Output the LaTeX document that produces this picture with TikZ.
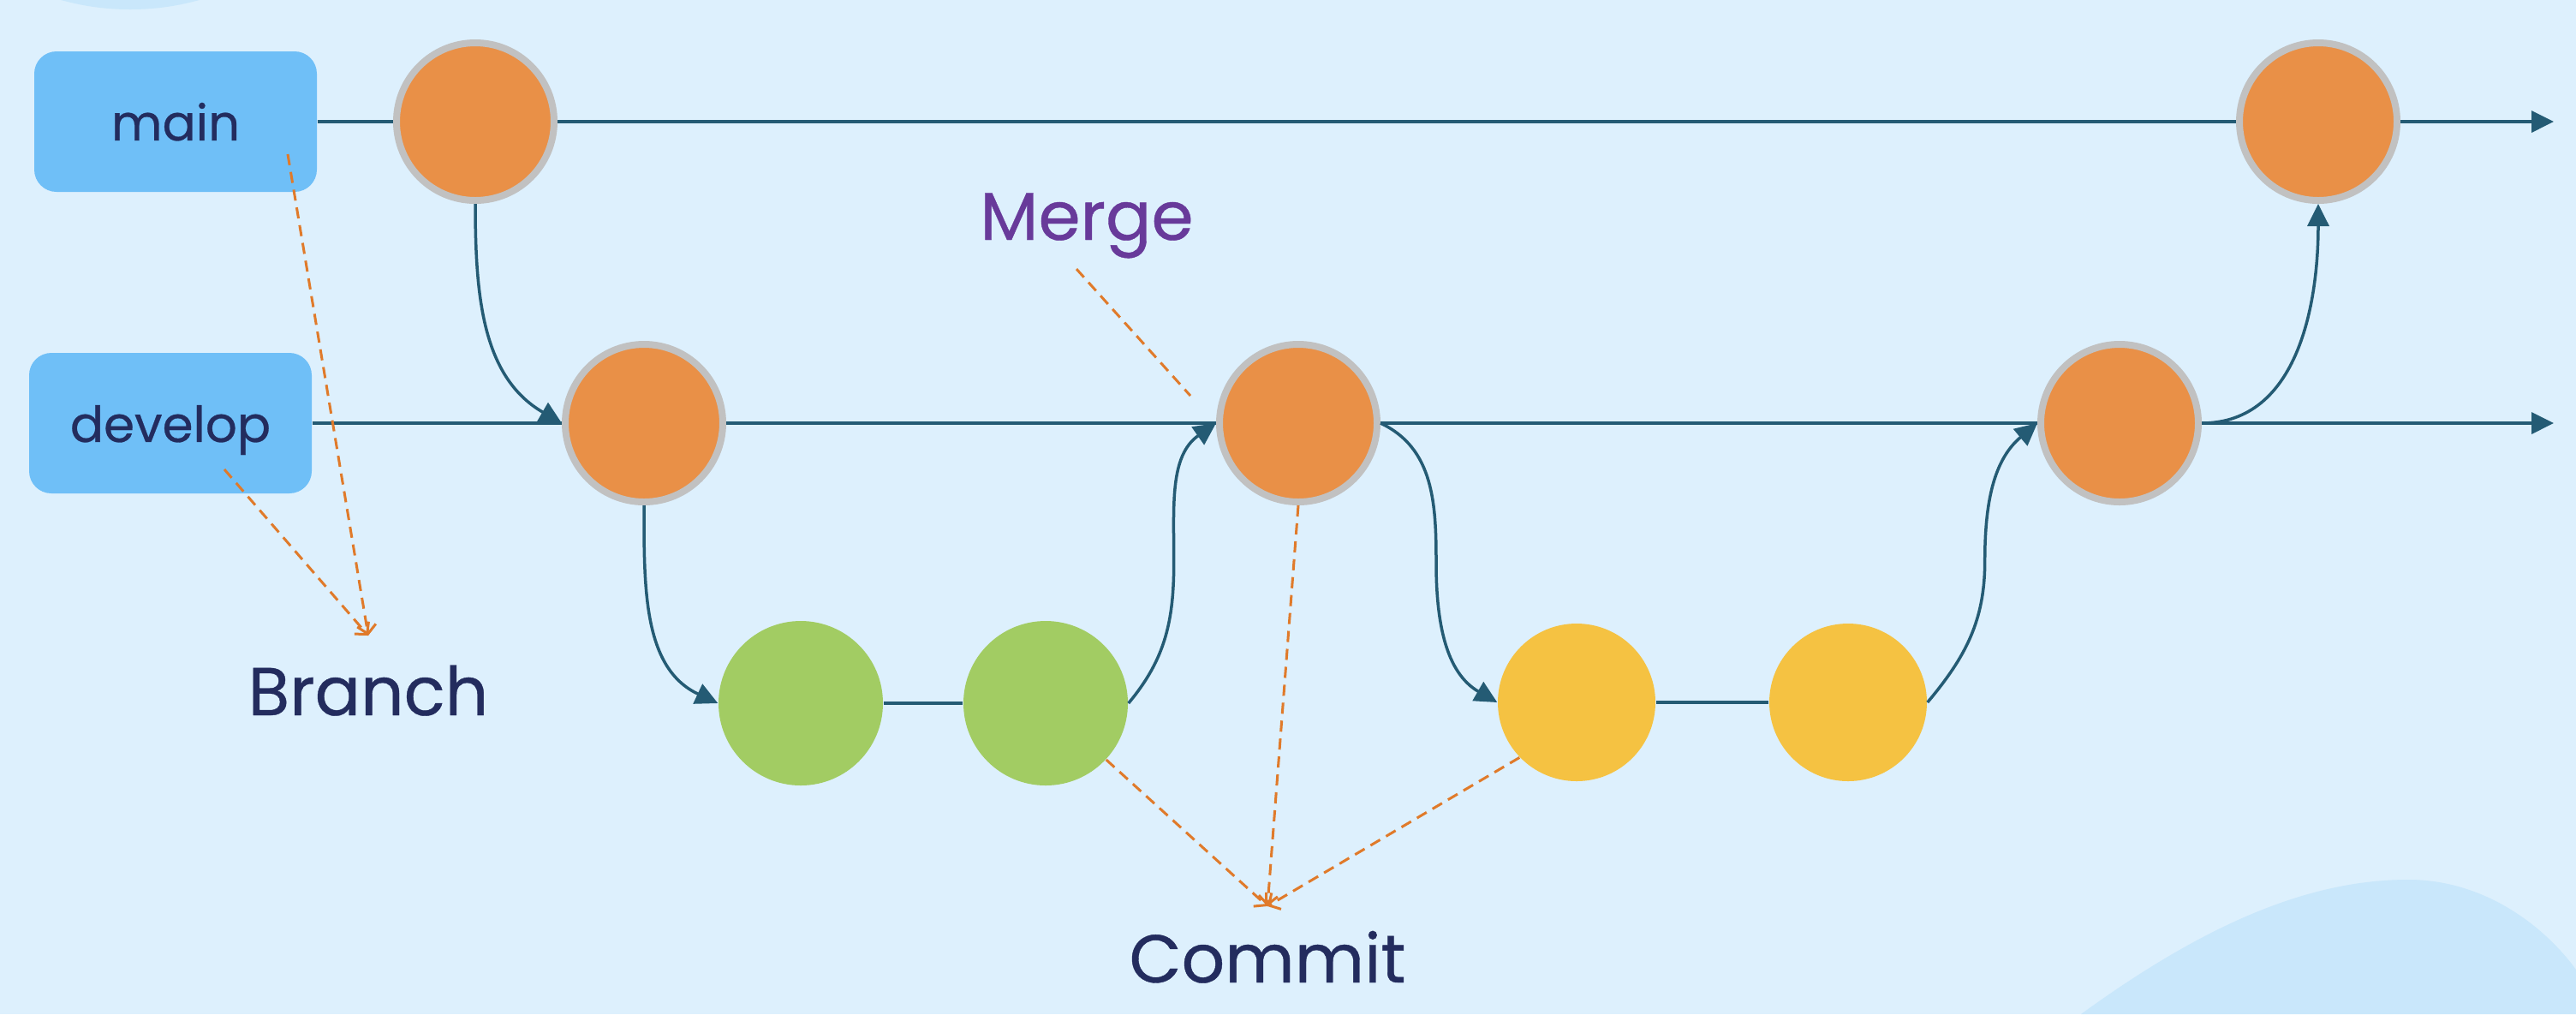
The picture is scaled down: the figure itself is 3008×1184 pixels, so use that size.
\documentclass[tikz,border=0pt]{standalone}
\usepackage{fontspec}
\setmainfont{Poppins}[FakeBold=0.5]
\usepackage{tikz}
\usetikzlibrary{arrows.meta}
\definecolor{bgblue}{HTML}{DDF0FD}
\definecolor{blobblue}{HTML}{C9E7FB}
\definecolor{boxblue}{HTML}{6FBFF7}
\definecolor{navy}{HTML}{232C5E}
\definecolor{linec}{HTML}{245B74}
\definecolor{ringgray}{HTML}{C1C1C1}
\definecolor{orangec}{HTML}{E99047}
\definecolor{greenc}{HTML}{A2CC63}
\definecolor{yellowc}{HTML}{F5C242}
\definecolor{dashc}{HTML}{E07A2A}
\definecolor{purplec}{HTML}{683A9A}
\newcommand{\lbl}{\fontsize{22.5}{27}\selectfont}
\tikzstyle{branchbox}=[fill=boxblue,rounded corners=2.6mm,minimum width=33mm,minimum height=16.4mm,inner sep=0pt,text height=14pt,text depth=1.5pt,text=navy,font=\fontsize{16.5}{20}\selectfont]
\tikzstyle{commit}=[circle,inner sep=0pt]
\tikzstyle{mcommit}=[commit,fill=orangec,draw=ringgray,line width=0.8mm,minimum size=18.4mm]
\tikzstyle{fcommit}=[commit,fill=greenc,minimum size=19.2mm]
\tikzstyle{hcommit}=[commit,fill=yellowc,minimum size=18.4mm]
\tikzstyle{flow}=[draw=linec,line width=0.35mm]
\tikzstyle{flowarrow}=[flow,-{Triangle[length=2.6mm,width=2.5mm]}]
\tikzstyle{pointer}=[draw=dashc,line width=0.3mm,dash pattern=on 1.3mm off 0.8mm,-{Straight Barb[length=1mm,width=2.2mm]}]
\tikzstyle{word}=[inner sep=0pt,anchor=base,text=navy,font=\lbl]

\begin{document}
\begin{tikzpicture}[x=0.1mm,y=-0.1mm]
  \useasboundingbox (0,0) rectangle (3008,1184);
  % background and blobs
  \begin{scope}
    \clip (0,0) rectangle (3008,1184);
    \fill[bgblue] (0,0) rectangle (3008,1184);
    \fill[blobblue] (152,-289) circle (30mm);
    \fill[blobblue] (2430,1184) .. controls (2580,1075) and (2700,1027) .. (2812,1027)
      .. controls (2900,1027) and (2970,1080) .. (3008,1132) -- (3008,1184) -- cycle;
  \end{scope}

  % branch names
  \node[branchbox] (main) at (205,142) {main};
  \node[branchbox] (develop) at (199,494) {develop};

  % commits
  \node[mcommit] (m1) at (555,142) {};
  \node[mcommit] (m2) at (2707,142) {};
  \node[mcommit] (d1) at (752,494) {};
  \node[mcommit] (d2) at (1516,494) {};
  \node[mcommit] (d3) at (2475,494) {};
  \node[fcommit] (g1) at (935,821) {};
  \node[fcommit] (g2) at (1221,821) {};
  \node[hcommit] (y1) at (1841,820) {};
  \node[hcommit] (y2) at (2158,820) {};

  \coordinate (mainend) at (2982,142);
  \coordinate (devend) at (2982,494);

  % straight lines
  \draw[flow] (main.east) -- (m1.west);
  \draw[flow] (m1.east) -- (m2.west);
  \draw[flowarrow] (m2.east) -- (mainend);
  \draw[flow] (develop.east) -- (d1.west);
  \draw[flow] (d1.east) -- (d2.west);
  \draw[flow] (d2.east) -- (d3.west);
  \draw[flowarrow] (d3.east) -- (devend);
  \draw[flow] (g1) -- (g2);
  \draw[flow] (y1) -- (y2);

  % branching and merging
  \draw[flowarrow] (m1.south) to[out=-90,in=150] (d1.west);
  \draw[flowarrow] (d1.south) to[out=-90,in=155] (g1.west);
  \draw[flowarrow] (g2.east) to[out=50,in=-90] ++(53,-165)
    to[out=90,in=-145] (d2.west);
  \draw[flowarrow] (d2.east) to[out=-25,in=90] ++(65,163)
    to[out=-90,in=150] (y1.west);
  \draw[flowarrow] (y2.east) to[out=50,in=-90] ++(67,-165)
    to[out=90,in=-140] (d3.west);
  \draw[flowarrow] (d3.east) to[out=0,in=-90] (m2.south);

  % labels
  \node[word] (branch) at (430,835) {Branch};
  \node[word,text=purplec] (merge) at (1269,280) {Merge};
  \node[word] (commit) at (1480,1147) {Commit};

  \coordinate (branchtip) at (430,742);
  \coordinate (committip) at (1480,1058);
  \coordinate (mergetip) at (1390,462);

  % pointers
  \draw[pointer] ([shift={(131,38)}]main.center) -- (branchtip);
  \draw[pointer] ([shift={(63,54)}]develop.center) -- (branchtip);
  \draw[pointer,-] ([shift={(-12,12)}]merge.south) -- (mergetip);
  \draw[pointer] (g2.-43) -- (committip);
  \draw[pointer] (d2.south) -- (committip);
  \draw[pointer] (y1.224) -- (committip);
\end{tikzpicture}
\end{document}
